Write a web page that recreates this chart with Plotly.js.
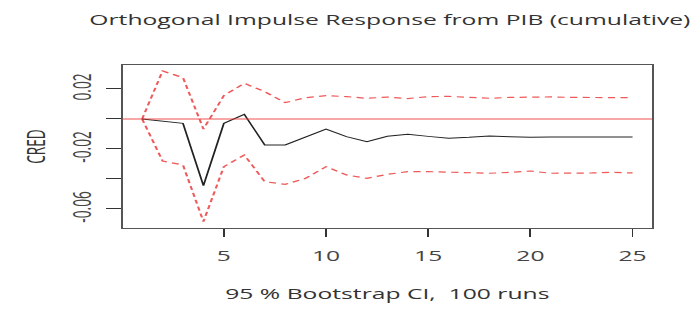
<!DOCTYPE html>
<html>
<head>
<meta charset="utf-8">
<script src="https://cdn.plot.ly/plotly-3.0.1.min.js"></script>
<style>
  html, body { margin: 0; padding: 0; background: #fff; }
  #frame { width: 690px; height: 320px; overflow: hidden; }
  /* The figure is laid out narrow and widened to the page width. */
  #chart { width: 383px; height: 320px; transform: scaleX(1.8016); transform-origin: 0 0; }
</style>
</head>
<body>
<div id="frame"><div id="chart"></div></div>
<script>
// Horizon (periods after the shock)
const periods = [1, 2, 3, 4, 5, 6, 7, 8, 9, 10, 11, 12, 13, 14, 15, 16, 17, 18, 19, 20, 21, 22, 23, 24, 25];

// Cumulative orthogonal impulse response of CRED to a PIB shock
const response = [0, -0.0013, -0.0029, -0.0444, -0.0029, 0.0031, -0.0173, -0.0173, -0.0120, -0.0067,
  -0.0118, -0.0151, -0.0115, -0.0102, -0.0116, -0.0129, -0.0122, -0.0113, -0.0118, -0.0122,
  -0.0120, -0.0120, -0.0120, -0.0120, -0.0120];

// 95 % bootstrap confidence band
const upper = [0, 0.0320, 0.0276, -0.0067, 0.0156, 0.0238, 0.0182, 0.0109, 0.0142, 0.0156,
  0.0149, 0.0138, 0.0146, 0.0136, 0.0149, 0.0151, 0.0144, 0.0138, 0.0144, 0.0147,
  0.0147, 0.0144, 0.0142, 0.0144, 0.0142];
const lower = [0, -0.0280, -0.0307, -0.0684, -0.0318, -0.0240, -0.0418, -0.0436, -0.0396, -0.0318,
  -0.0373, -0.0396, -0.0369, -0.0351, -0.0351, -0.0356, -0.0358, -0.0362, -0.0356, -0.0347,
  -0.0362, -0.0362, -0.0360, -0.0356, -0.0360];

const yTicks = [-0.06, -0.04, -0.02, 0, 0.02];
const yTickLabels = ['-0.06', '', '-0.02', '', '0.02'];
const xTicks = [5, 10, 15, 20, 25];

const bandLine = { color: 'rgba(235,60,60,0.85)', width: 1.2, dash: '4px,3px' };

const traces = [
  { x: periods, y: upper, type: 'scatter', mode: 'lines', line: bandLine, hoverinfo: 'skip' },
  { x: periods, y: lower, type: 'scatter', mode: 'lines', line: bandLine, hoverinfo: 'skip' },
  { x: periods, y: response, type: 'scatter', mode: 'lines', line: { color: '#222', width: 1 } }
];

const baseFont = 'Open Sans, sans-serif';
const tickFont = { family: baseFont, size: 13.7, color: '#444' };

const layout = {
  width: 383, height: 320,
  margin: { l: 68, r: 21, t: 65, b: 92 },
  paper_bgcolor: '#fff', plot_bgcolor: '#fff',
  showlegend: false,
  title: {
    text: 'Orthogonal Impulse Response from PIB (cumulative)',
    font: { family: baseFont, size: 13.7, color: '#333' },
    xref: 'container', x: 0.565, xanchor: 'center',
    y: 0.9375, yanchor: 'middle'
  },
  xaxis: {
    range: [0.04, 25.96],
    tickvals: xTicks,
    ticks: 'outside', ticklen: 7.5, tickcolor: '#333', tickwidth: 1,
    ticklabelstandoff: 8,
    showline: true, linecolor: '#555', linewidth: 1, mirror: true,
    showgrid: false, zeroline: false,
    tickfont: tickFont,
    title: { text: '95 % Bootstrap CI,  100 runs', standoff: 25,
      font: { family: baseFont, size: 13.7, color: '#333' } }
  },
  yaxis: {
    range: [-0.0727, 0.036],
    tickvals: yTicks, ticktext: yTickLabels,
    tickangle: -90,
    ticks: 'outside', ticklen: 8, tickcolor: '#333', tickwidth: 1,
    ticklabelstandoff: 3,
    showline: true, linecolor: '#555', linewidth: 1, mirror: true,
    showgrid: false, zeroline: false,
    tickfont: tickFont,
    title: { text: 'CRED', standoff: 6,
      font: { family: baseFont, size: 13.7, color: '#333' } }
  },
  shapes: [
    { type: 'line', xref: 'paper', x0: 0, x1: 1, yref: 'y', y0: 0, y1: 0,
      line: { color: 'rgba(240,60,60,0.9)', width: 1.2 } }
  ]
};

Plotly.newPlot('chart', traces, layout, { displayModeBar: false, staticPlot: true });
</script>
</body>
</html>
